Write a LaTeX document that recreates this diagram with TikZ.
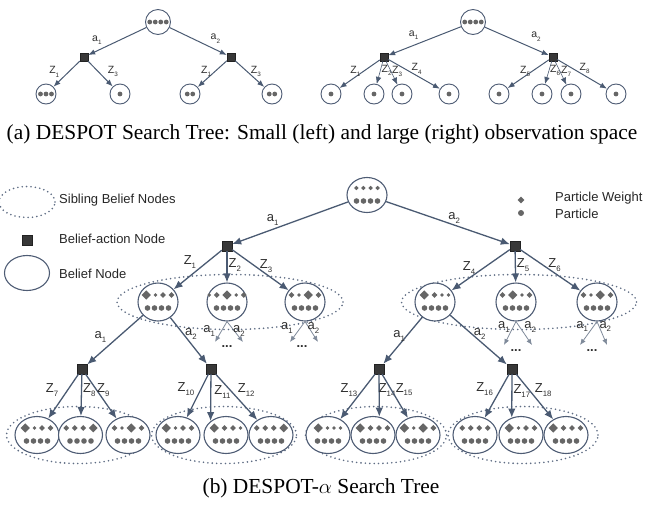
\documentclass[tikz,border=0pt]{standalone}
\usepackage{fontspec}
\setmainfont{Liberation Serif}
\setsansfont{Liberation Sans}
\usetikzlibrary{arrows.meta,positioning,calc,shapes.geometric}
\definecolor{linec}{HTML}{4A5A72}
\definecolor{thinc}{HTML}{7F8A9A}
\definecolor{nodec}{HTML}{4E5C74}
\definecolor{sibc}{HTML}{5F6D84}
\definecolor{actc}{HTML}{383838}
\definecolor{actline}{HTML}{222222}
\definecolor{partc}{HTML}{666666}
\definecolor{labc}{HTML}{303030}

% small lowered index of an edge label
\newcommand{\ix}[1]{\raisebox{-0.3em}{\scalebox{0.6}{#1}}}
% diamonds (particle weights) over the four particles of a belief node
\newcommand{\weights}[2]{%
  \xdef\wsum{0}%
  \foreach \w in {#2}{\pgfmathsetmacro\wtmp{\wsum+2*\w+2.5}\xdef\wsum{\wtmp}}%
  \pgfmathsetmacro\wtmp{-(\wsum-2.5)/2}\xdef\wx{\wtmp}%
  \foreach \w in {#2}{%
    \node[wgt, minimum size=2*\w] at ($(#1)+(\wx+\w,-7)$) {};
    \pgfmathsetmacro\wtmp{\wx+2*\w+2.5}\xdef\wx{\wtmp}}%
  \foreach \i in {1,...,4}
    \fill[part] ($(#1)+({(\i-2.5)*7},6)$) circle (2.8);
}
% particles of a node in the trees of (a)
\newcommand{\pdots}[2]{%
  \foreach \i in {1,...,#2}
    \fill[part] ($(#1)+({(\i-(#2+1)/2)*5.5},0)$) circle (2.4);
}

\begin{document}
\begin{tikzpicture}[x=1pt,y=-1pt,
  font=\sffamily,>=Latex,
  every node/.append style={text=labc},
  belief/.style={ellipse, draw=nodec, line width=1.1, fill=white, minimum width=40, minimum height=38, inner sep=0},
  leaf/.style={belief, minimum width=44, minimum height=37},
  act/.style={rectangle, draw=actline, fill=actc, minimum size=10, inner sep=0},
  sib/.style={ellipse, draw=sibc, line width=1.8, dash pattern=on 0pt off 4.4pt, line cap=round, inner sep=0},
  arr/.style={draw=linec, line width=1.3, -{Latex[length=9pt,width=7.5pt]}},
  thinarr/.style={draw=thinc, line width=0.8, -{Latex[length=6pt,width=5pt]}},
  lbl/.style={font=\fontsize{13}{13}\selectfont\sffamily, inner sep=1},
  wgt/.style={diamond, fill=partc, inner sep=0},
  part/.style={fill=partc},
  troot/.style={circle, draw=nodec, line width=0.9, fill=white, minimum size=25, inner sep=0},
  tleaf/.style={troot, minimum size=20},
  tact/.style={act, minimum size=8},
  tarr/.style={draw=linec, line width=1, -{Latex[length=7pt,width=5.5pt]}},
  tthin/.style={tarr, line width=0.6},
  tlbl/.style={font=\fontsize{10.5}{10.5}\selectfont\sffamily, inner sep=1},
  captxt/.style={font=\fontsize{21.4}{22}\selectfont\rmfamily, text=black},
  legend/.style={font=\fontsize{13}{13}\selectfont\sffamily, text=black!85, anchor=west, inner sep=0},
]
\useasboundingbox (0,0) rectangle (645,504);

% (a) small observation space, left
\node[troot] (sa) at (158,22) {};
\node[tact] (sa1) at (84,57) {};
\node[tact] (sa2) at (231,57) {};
\node[tleaf] (sz1) at (46,94) {};
\node[tleaf] (sz2) at (120,94) {};
\node[tleaf] (sz3) at (190,94) {};
\node[tleaf] (sz4) at (272,94) {};
\pdots{sa}{4} \pdots{sz1}{3} \pdots{sz2}{1} \pdots{sz3}{2} \pdots{sz4}{2}
\draw[tarr] (sa) -- node[tlbl, above=5pt, pos=0.85]{a\ix{1}} (sa1);
\draw[tarr] (sa) -- node[tlbl, above=5pt, pos=0.8]{a\ix{2}} (sa2);
\draw[tarr] (sa1) -- node[tlbl, left=8pt, pos=0.42]{Z\ix{1}} (sz1);
\draw[tarr] (sa1) -- node[tlbl, right=8pt, pos=0.42]{Z\ix{3}} (sz2);
\draw[tarr] (sa2) -- node[tlbl, left=2pt, pos=0.42]{Z\ix{1}} (sz3);
\draw[tarr] (sa2) -- node[tlbl, right=2pt, pos=0.42]{Z\ix{3}} (sz4);

% (a) large observation space, right
\node[troot] (la) at (473,22) {};
\node[tact] (la1) at (384,57) {};
\node[tact] (la2) at (553,57) {};
\foreach \x [count=\k] in {331,374,402,449,499,542,571,616}
  \node[tleaf] (lz\k) at (\x,94) {};
\pdots{la}{4}
\foreach \k in {1,...,8} \pdots{lz\k}{1};
\draw[tarr] (la) -- node[tlbl, above=4pt, pos=0.65]{a\ix{1}} (la1);
\draw[tarr] (la) -- node[tlbl, above=7pt, pos=0.8]{a\ix{2}} (la2);
\draw[tarr] (la1) -- node[tlbl, left=1pt, pos=0.42]{Z\ix{1}} (lz1);
\draw[tthin] (la1) -- node[tlbl, right=0pt, pos=0.42]{Z\ix{2}} (lz2);
\draw[tthin] (la1) -- node[tlbl, right=0pt, pos=0.42]{Z\ix{3}} (lz3);
\draw[tarr] (la1) -- node[tlbl, above, pos=0.55]{Z\ix{4}} (lz4);
\draw[tarr] (la2) -- node[tlbl, left, pos=0.42]{Z\ix{5}} (lz5);
\draw[tthin] (la2) -- node[tlbl, right=0pt, pos=0.42]{Z\ix{6}} (lz6);
\draw[tthin] (la2) -- node[tlbl, right, pos=0.42]{Z\ix{7}} (lz7);
\draw[tarr] (la2) -- node[tlbl, above, pos=0.55]{Z\ix{8}} (lz8);

\node[captxt] (capa) at (322,134) {(a) DESPOT Search Tree: Small (left) and large (right) observation space};

% (b) legend
\node[sib, minimum width=56, minimum height=31] (ksib) at (27,202) {};
\node[legend] (ksibt) at (59,200) {Sibling Belief Nodes};
\node[act] (kact) at (27,240) {};
\node[legend] (kactt) at (59,239) {Belief-action Node};
\node[belief, minimum width=45, minimum height=35] (kbel) at (27,273) {};
\node[legend] (kbelt) at (59,274) {Belief Node};
\node[wgt, minimum size=7] (kw) at (521,200) {};
\node[legend] (kwt) at (555,198) {Particle Weight};
\node[circle, fill=partc, minimum size=6, inner sep=0] (kp) at (521,213) {};
\node[legend] (kpt) at (555,214) {Particle};

% (b) sibling groups first, belief nodes on top of them
\node[sib, minimum width=226, minimum height=55] (grp1) at (230,302) {};
\node[sib, minimum width=235, minimum height=55] (grp2) at (519,302) {};
\foreach \x/\w [count=\k] in {78/143,224/145,376/141,523/150}
  \node[sib, minimum width=\w, minimum height=57] (grp2\k) at (\x,435) {};

% (b) root and first step
\node[belief, minimum height=35] (root) at (367,195) {};
\node[act] (r1) at (227,246) {};
\node[act] (r2) at (515,246) {};
\node[belief] (o1) at (158,302) {};
\node[belief] (o2) at (227,302) {};
\node[belief] (o3) at (305,302) {};
\node[belief] (o4) at (435,302) {};
\node[belief] (o5) at (516,302) {};
\node[belief] (o6) at (597,302) {};
\weights{root}{2.3,2.3,2.3,2.3}
\weights{o1}{4.8,2,3,3}
\weights{o2}{2,3,4.8,2,3}
\weights{o3}{3,2,4.8,3}
\weights{o4}{4.8,3,2,2}
\weights{o5}{3,4.8,2,3}
\weights{o6}{3,2,4.8,3}
\draw[arr] (root) -- node[lbl, above=2pt, pos=0.65]{a\ix{1}} (r1);
\draw[arr] (root) -- node[lbl, above, pos=0.55]{a\ix{2}} (r2);
\draw[arr] (r1) -- node[lbl, above left=0pt, pos=0.5]{Z\ix{1}} (o1);
\draw[arr] (r1) -- node[lbl, right, pos=0.44]{Z\ix{2}} (o2);
\draw[arr] (r1) -- node[lbl, above, pos=0.6]{Z\ix{3}} (o3);
\draw[arr] (r2) -- node[lbl, above=2pt, pos=0.7]{Z\ix{4}} (o4);
\draw[arr] (r2) -- node[lbl, right, pos=0.44]{Z\ix{5}} (o5);
\draw[arr] (r2) -- node[lbl, above, pos=0.57]{Z\ix{6}} (o6);

% (b) unexpanded siblings
\coordinate (o2l) at (215,342);
\coordinate (o2r) at (243,342);
\coordinate (o3l) at (290,342);
\coordinate (o3r) at (318,342);
\coordinate (o5l) at (504,345);
\coordinate (o5r) at (532,345);
\coordinate (o6l) at (580,345);
\coordinate (o6r) at (607,345);
\draw[thinarr] (o2.south) -- node[lbl, left=5pt, pos=0.48]{a\ix{1}} (o2l);
\draw[thinarr] (o2.south) -- node[lbl, right=-3pt, pos=0.48]{a\ix{2}} (o2r);
\draw[thinarr] (o3.south) -- node[lbl, left=6pt, pos=0.33]{a\ix{1}} (o3l);
\draw[thinarr] (o3.south) -- node[lbl, right=-3pt, pos=0.33]{a\ix{2}} (o3r);
\draw[thinarr] (o5.south) -- node[lbl, left=2pt, pos=0.25]{a\ix{1}} (o5l);
\draw[thinarr] (o5.south) -- node[lbl, right=3pt, pos=0.25]{a\ix{2}} (o5r);
\draw[thinarr] (o6.south) -- node[lbl, left=4pt, pos=0.21]{a\ix{1}} (o6l);
\draw[thinarr] (o6.south) -- node[lbl, right=-1pt, pos=0.21]{a\ix{2}} (o6r);
\node[lbl] (o2d) at (227,347) {\textbf{...}};
\node[lbl] (o3d) at (302,347) {\textbf{...}};
\node[lbl] (o5d) at (516,351) {\textbf{...}};
\node[lbl] (o6d) at (592,351) {\textbf{...}};

% (b) second step
\node[act] (o1a1) at (82,369) {};
\node[act] (o1a2) at (211,369) {};
\node[act] (o4a1) at (379,369) {};
\node[act] (o4a2) at (512,369) {};
\foreach \x [count=\k] in {37,80.5,128,178,226,271,328,373,418,475,521,566}
  \node[leaf] (q\k) at (\x,435) {};
\weights{q1}{4.8,2,3,3}
\weights{q2}{3,3,3,4.5}
\weights{q3}{3,2,4.8,3}
\weights{q4}{4.8,2,3,3}
\weights{q5}{4.8,3,3,2}
\weights{q6}{3,3,3,4.5}
\weights{q7}{4.8,2,2,2}
\weights{q8}{4.8,3,3,3}
\weights{q9}{4.8,2,4.8,3}
\weights{q10}{3,3,3,3}
\weights{q11}{4.8,2,3,3}
\weights{q12}{4.8,3,3,3}
\draw[arr] (o1) -- node[lbl, left=10pt, pos=0.45]{a\ix{1}} (o1a1);
\draw[arr] (o1) -- node[lbl, right, pos=0.36]{a\ix{2}} (o1a2);
\draw[arr] (o4) -- node[lbl, left, pos=0.4]{a\ix{1}} (o4a1);
\draw[arr] (o4) -- node[lbl, right, pos=0.39]{a\ix{2}} (o4a2);
% middle arrows fall straight down, off the leaf centre
\draw[arr] (o1a1) -- node[lbl, left=8pt, pos=0.35]{Z\ix{7}} (q1);
\draw[arr] (o1a1) -- node[lbl, right, pos=0.38]{Z\ix{8}} (q2);
\draw[arr] (o1a1) -- node[lbl, right=-1pt, pos=0.35]{Z\ix{9}} (q3);
\draw[arr] (o1a2) -- node[lbl, left=5pt, pos=0.35]{Z\ix{10}} (q4);
\draw[arr] (o1a2) -- node[lbl, right=2pt, pos=0.38]{Z\ix{11}} (q5.138);
\draw[arr] (o1a2) -- node[lbl, right=6pt, pos=0.35]{Z\ix{12}} (q6);
\draw[arr] (o4a1) -- node[lbl, left=4pt, pos=0.35]{Z\ix{13}} (q7);
\draw[arr] (o4a1) -- node[lbl, right=-2pt, pos=0.38]{Z\ix{14}} (q8.71);
\draw[arr] (o4a1) -- node[lbl, right=3pt, pos=0.35]{Z\ix{15}} (q9);
\draw[arr] (o4a2) -- node[lbl, left=6pt, pos=0.35]{Z\ix{16}} (q10);
\draw[arr] (o4a2) -- node[lbl, right, pos=0.38]{Z\ix{17}} (q11.118);
\draw[arr] (o4a2) -- node[lbl, right=4pt, pos=0.35]{Z\ix{18}} (q12);

\node[captxt] (capb) at (321,488) {(b) DESPOT-$\alpha$ Search Tree};
\end{tikzpicture}
\end{document}
